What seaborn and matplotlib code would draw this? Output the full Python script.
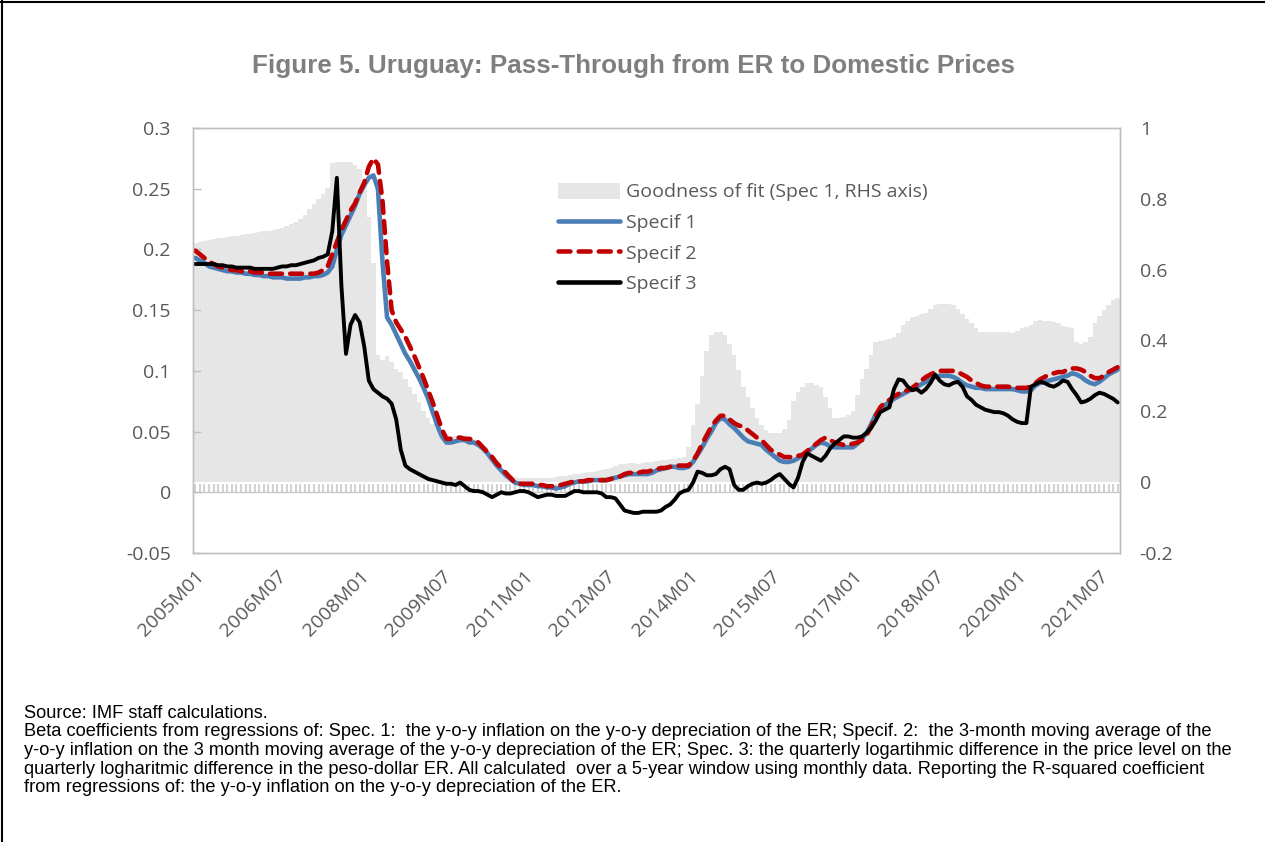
import numpy as np
import pandas as pd
import matplotlib
matplotlib.use("Agg")
import matplotlib.pyplot as plt
import seaborn as sns
from matplotlib.patches import Patch
from matplotlib.lines import Line2D

# ---------------- data ----------------
months = [f"{y}M{m:02d}" for y in range(2005, 2022) for m in range(1, 13)][:203]
tick_labels = ["2005M01", "2006M07", "2008M01", "2009M07", "2011M01", "2012M07",
               "2014M01", "2015M07", "2017M01", "2018M07", "2020M01", "2021M07"]

spec1 = [
    0.193, 0.191, 0.189, 0.186, 0.185, 0.184, 0.183, 0.182, 0.182, 0.181, 0.181, 0.180,
    0.180, 0.179, 0.179, 0.178, 0.178, 0.177, 0.177, 0.177, 0.176, 0.176, 0.176, 0.176,
    0.177, 0.177, 0.178, 0.178, 0.179, 0.181, 0.186, 0.200, 0.212, 0.220, 0.228, 0.236,
    0.246, 0.253, 0.259, 0.261, 0.250, 0.190, 0.144, 0.138, 0.130, 0.122, 0.114, 0.108,
    0.101, 0.094, 0.086, 0.077, 0.066, 0.055, 0.046, 0.041, 0.041, 0.042, 0.043, 0.043,
    0.041, 0.041, 0.039, 0.036, 0.032, 0.027, 0.022, 0.018, 0.014, 0.011, 0.008, 0.007,
    0.006, 0.006, 0.006, 0.005, 0.005, 0.004, 0.004, 0.003, 0.004, 0.005, 0.007, 0.008,
    0.009, 0.009, 0.009, 0.010, 0.010, 0.010, 0.010, 0.011, 0.012, 0.013, 0.014, 0.015,
    0.015, 0.015, 0.015, 0.015, 0.016, 0.018, 0.019, 0.020, 0.021, 0.021, 0.020, 0.020,
    0.021, 0.025, 0.031, 0.037, 0.044, 0.050, 0.057, 0.061, 0.060, 0.056, 0.053, 0.049,
    0.045, 0.042, 0.041, 0.040, 0.039, 0.035, 0.032, 0.029, 0.026, 0.025, 0.025, 0.026,
    0.028, 0.030, 0.033, 0.036, 0.039, 0.041, 0.040, 0.038, 0.037, 0.037, 0.037, 0.037,
    0.037, 0.040, 0.044, 0.049, 0.056, 0.064, 0.069, 0.072, 0.074, 0.077, 0.079, 0.081,
    0.083, 0.085, 0.087, 0.089, 0.091, 0.093, 0.095, 0.096, 0.096, 0.096, 0.095, 0.093,
    0.090, 0.088, 0.087, 0.086, 0.086, 0.085, 0.085, 0.085, 0.085, 0.085, 0.085, 0.085,
    0.084, 0.083, 0.083, 0.084, 0.088, 0.090, 0.091, 0.092, 0.093, 0.094, 0.095, 0.096,
    0.098, 0.097, 0.095, 0.092, 0.090, 0.089, 0.091, 0.094, 0.097, 0.099, 0.101,
]

spec2 = [
    0.199, 0.196, 0.193, 0.190, 0.188, 0.186, 0.185, 0.184, 0.183, 0.183, 0.182, 0.182,
    0.182, 0.181, 0.181, 0.181, 0.180, 0.180, 0.180, 0.180, 0.180, 0.180, 0.180, 0.180,
    0.180, 0.180, 0.180, 0.181, 0.183, 0.186, 0.196, 0.206, 0.216, 0.224, 0.232, 0.238,
    0.247, 0.255, 0.268, 0.275, 0.270, 0.240, 0.190, 0.150, 0.140, 0.134, 0.128, 0.120,
    0.112, 0.103, 0.094, 0.084, 0.074, 0.063, 0.052, 0.044, 0.044, 0.045, 0.045, 0.044,
    0.044, 0.043, 0.041, 0.037, 0.033, 0.029, 0.024, 0.020, 0.016, 0.012, 0.008, 0.007,
    0.007, 0.007, 0.007, 0.006, 0.006, 0.005, 0.005, 0.005, 0.006, 0.007, 0.008, 0.009,
    0.009, 0.009, 0.010, 0.010, 0.010, 0.010, 0.010, 0.011, 0.012, 0.013, 0.015, 0.016,
    0.016, 0.016, 0.017, 0.017, 0.018, 0.019, 0.020, 0.020, 0.021, 0.022, 0.022, 0.022,
    0.022, 0.026, 0.032, 0.040, 0.047, 0.054, 0.059, 0.063, 0.063, 0.060, 0.057, 0.055,
    0.054, 0.051, 0.048, 0.045, 0.043, 0.039, 0.035, 0.033, 0.031, 0.029, 0.029, 0.029,
    0.030, 0.031, 0.034, 0.037, 0.040, 0.043, 0.045, 0.043, 0.041, 0.040, 0.039, 0.039,
    0.040, 0.041, 0.043, 0.047, 0.054, 0.063, 0.070, 0.074, 0.076, 0.079, 0.081, 0.083,
    0.084, 0.086, 0.089, 0.092, 0.095, 0.097, 0.099, 0.100, 0.100, 0.100, 0.100, 0.099,
    0.097, 0.095, 0.092, 0.090, 0.088, 0.087, 0.087, 0.087, 0.087, 0.087, 0.087, 0.086,
    0.086, 0.086, 0.086, 0.087, 0.090, 0.093, 0.095, 0.097, 0.098, 0.099, 0.099, 0.101,
    0.102, 0.102, 0.101, 0.099, 0.096, 0.094, 0.094, 0.096, 0.099, 0.101, 0.103,
]

spec3 = [
    0.188, 0.188, 0.188, 0.188, 0.188, 0.187, 0.187, 0.186, 0.186, 0.185, 0.185, 0.185,
    0.185, 0.184, 0.184, 0.184, 0.184, 0.184, 0.185, 0.186, 0.186, 0.187, 0.187, 0.188,
    0.189, 0.190, 0.191, 0.193, 0.194, 0.196, 0.215, 0.259, 0.170, 0.114, 0.138, 0.146,
    0.140, 0.120, 0.092, 0.085, 0.082, 0.079, 0.077, 0.073, 0.060, 0.035, 0.022, 0.019,
    0.017, 0.015, 0.013, 0.011, 0.010, 0.009, 0.008, 0.007, 0.007, 0.006, 0.008, 0.005,
    0.002, 0.001, 0.001, 0.000, -0.002, -0.004, -0.002, 0.000, -0.001, -0.001, 0.000, 0.001,
    0.001, 0.000, -0.002, -0.004, -0.003, -0.002, -0.002, -0.003, -0.003, -0.003, -0.001, 0.001,
    0.001, 0.000, 0.000, 0.000, 0.000, -0.001, -0.004, -0.004, -0.005, -0.010, -0.015, -0.016,
    -0.017, -0.017, -0.016, -0.016, -0.016, -0.016, -0.015, -0.012, -0.010, -0.006, -0.001, 0.001,
    0.002, 0.008, 0.017, 0.016, 0.014, 0.014, 0.015, 0.019, 0.021, 0.019, 0.006, 0.002,
    0.002, 0.005, 0.007, 0.008, 0.007, 0.008, 0.010, 0.013, 0.015, 0.011, 0.007, 0.004,
    0.012, 0.025, 0.032, 0.030, 0.028, 0.026, 0.030, 0.036, 0.040, 0.043, 0.046, 0.046,
    0.045, 0.045, 0.046, 0.049, 0.053, 0.059, 0.066, 0.068, 0.070, 0.085, 0.093, 0.092,
    0.087, 0.084, 0.085, 0.082, 0.085, 0.090, 0.097, 0.092, 0.089, 0.088, 0.090, 0.091,
    0.087, 0.079, 0.076, 0.072, 0.070, 0.068, 0.067, 0.066, 0.066, 0.065, 0.063, 0.060,
    0.058, 0.057, 0.057, 0.087, 0.089, 0.091, 0.090, 0.088, 0.087, 0.089, 0.092, 0.091,
    0.085, 0.080, 0.074, 0.075, 0.077, 0.080, 0.082, 0.081, 0.079, 0.077, 0.074,
]

r2 = [
    0.675, 0.677, 0.680, 0.683, 0.686, 0.688, 0.690, 0.692, 0.694, 0.696, 0.698, 0.700,
    0.702, 0.704, 0.706, 0.708, 0.710, 0.712, 0.715, 0.718, 0.722, 0.728, 0.735, 0.742,
    0.755, 0.770, 0.785, 0.800, 0.815, 0.830, 0.900, 0.905, 0.905, 0.905, 0.905, 0.895,
    0.885, 0.850, 0.750, 0.620, 0.360, 0.345, 0.355, 0.340, 0.320, 0.310, 0.290, 0.270,
    0.250, 0.225, 0.200, 0.180, 0.165, 0.150, 0.140, 0.135, 0.130, 0.130, 0.133, 0.132,
    0.128, 0.122, 0.115, 0.100, 0.085, 0.070, 0.055, 0.040, 0.030, 0.020, 0.015, 0.013,
    0.012, 0.012, 0.012, 0.012, 0.012, 0.012, 0.013, 0.014, 0.016, 0.018, 0.020, 0.022,
    0.024, 0.026, 0.028, 0.030, 0.032, 0.035, 0.038, 0.040, 0.045, 0.050, 0.052, 0.054,
    0.055, 0.052, 0.055, 0.058, 0.056, 0.060, 0.062, 0.062, 0.064, 0.066, 0.068, 0.070,
    0.100, 0.160, 0.220, 0.300, 0.370, 0.415, 0.425, 0.425, 0.415, 0.390, 0.360, 0.316,
    0.270, 0.240, 0.210, 0.180, 0.160, 0.147, 0.140, 0.138, 0.138, 0.150, 0.175, 0.230,
    0.255, 0.270, 0.280, 0.280, 0.275, 0.270, 0.240, 0.210, 0.180, 0.180, 0.185, 0.190,
    0.200, 0.245, 0.290, 0.320, 0.360, 0.395, 0.398, 0.400, 0.405, 0.410, 0.420, 0.445,
    0.455, 0.466, 0.470, 0.475, 0.477, 0.490, 0.500, 0.502, 0.503, 0.503, 0.500, 0.490,
    0.475, 0.460, 0.448, 0.435, 0.425, 0.424, 0.424, 0.424, 0.424, 0.425, 0.425, 0.422,
    0.428, 0.435, 0.438, 0.445, 0.455, 0.458, 0.456, 0.455, 0.452, 0.448, 0.442, 0.437,
    0.435, 0.395, 0.390, 0.395, 0.410, 0.450, 0.470, 0.486, 0.500, 0.514, 0.520,
]

left_ticks = [-0.05, 0, 0.05, 0.1, 0.15, 0.2, 0.25, 0.3]
left_tick_labels = ["-0.05", "0", "0.05", "0.1", "0.15", "0.2", "0.25", "0.3"]
right_ticks = [-0.2, 0, 0.2, 0.4, 0.6, 0.8, 1.0]
right_tick_labels = ["-0.2", "0", "0.2", "0.4", "0.6", "0.8", "1"]

title = "Figure 5. Uruguay: Pass-Through from ER to Domestic Prices"
footnote = [
    "Source: IMF staff calculations.",
    "Beta coefficients from regressions of: Spec. 1:  the y-o-y inflation on the y-o-y depreciation of the ER; Specif. 2:  the 3-month moving average of the",
    "y-o-y inflation on the 3 month moving average of the y-o-y depreciation of the ER; Spec. 3: the quarterly logartihmic difference in the price level on the",
    "quarterly logharitmic difference in the peso-dollar ER. All calculated  over a 5-year window using monthly data. Reporting the R-squared coefficient",
    "from regressions of: the y-o-y inflation on the y-o-y depreciation of the ER.",
]

# ---------------- figure ----------------
sns.set_theme(style="white")
plt.rcParams["font.family"] = ["Open Sans", "DejaVu Sans"]

W, H = 1265, 842
fig = plt.figure(figsize=(W / 100, H / 100), dpi=100)

# frame lines at top and left edges of the picture
fig.add_artist(Line2D([0, 1], [1 - 1.5 / H, 1 - 1.5 / H], transform=fig.transFigure,
                      color="black", lw=1.5))
fig.add_artist(Line2D([1.5 / W, 1.5 / W], [0, 1], transform=fig.transFigure,
                      color="black", lw=1.5))

L, R, T, B = 193, 1120, 128, 553
ax = fig.add_axes([L / W, 1 - B / H, (R - L) / W, (B - T) / H])
ax2 = ax.twinx()

df = pd.DataFrame({"month": months, "x": np.arange(len(months)),
                   "r2": r2, "s1": spec1, "s2": spec2, "s3": spec3})

bar_color = "#e6e6e6"
sns.barplot(data=df, x="x", y="r2", native_scale=True, width=1.0, color=bar_color,
            saturation=1, linewidth=0, errorbar=None, ax=ax2)

blue, red = "#4a7fb5", "#c00000"
dash = (0, (2.6, 1.8))
sns.lineplot(data=df, x="x", y="s1", ax=ax, color=blue, lw=3.3, label="Specif 1")
sns.lineplot(data=df, x="x", y="s2", ax=ax, color=red, lw=3.3,
             linestyle=dash, dash_capstyle="round", label="Specif 2")
sns.lineplot(data=df, x="x", y="s3", ax=ax, color="black", lw=2.8, label="Specif 3")

ax.set_zorder(ax2.get_zorder() + 1)
ax.patch.set_visible(False)

ymin, ymax = -0.05, 0.3
ax.set_ylim(ymin, ymax)
ax2.set_ylim(-0.2, 1.0)
ax.set_xlim(-0.5, len(months) - 0.5)

for a in (ax, ax2):
    a.set_xlabel("")
    a.set_ylabel("")

tc = "#595959"
ax.set_yticks(left_ticks)
ax.set_yticklabels(left_tick_labels)
ax2.set_yticks(right_ticks)
ax2.set_yticklabels(right_tick_labels)

tick_pos = [months.index(t) for t in tick_labels]
ax.set_xticks(tick_pos)
ax.set_xticklabels(tick_labels, rotation=45, ha="right", rotation_mode="anchor")
ax.tick_params(axis="x", length=0, pad=10, labelsize=14, labelcolor=tc)
ax.tick_params(axis="y", direction="in", length=6, color="#bfbfbf", width=1,
               pad=16, labelsize=14, labelcolor=tc)
ax2.tick_params(axis="y", length=0, pad=14.2, labelsize=14, labelcolor=tc)

for a in (ax, ax2):
    for s in a.spines.values():
        s.set_color("#bfbfbf")
        s.set_linewidth(1.0)

# horizontal category axis at left-axis zero with monthly tick marks
zero_loc = (0 - ymin) / (ymax - ymin)
sec = ax.secondary_xaxis(zero_loc)
sec.set_xticks(np.arange(len(months)))
sec.tick_params(axis="x", direction="in", length=6, width=1.2, color="#c9c9c9",
                labelbottom=False, labeltop=False)
sec.spines["bottom"].set_color("#c9c9c9")
sec.spines["bottom"].set_linewidth(1.0)
sec.set_xticklabels([])

# legend
handles = [Patch(facecolor=bar_color, edgecolor="none"),
           Line2D([], [], color=blue, lw=3.3),
           Line2D([], [], color=red, lw=3.3, linestyle=dash, dash_capstyle="round"),
           Line2D([], [], color="black", lw=3.3)]
labels = ["Goodness of fit (Spec 1, RHS axis)", "Specif 1", "Specif 2", "Specif 3"]
ax.legend(handles, labels, loc="upper left",
          bbox_to_anchor=((558 - L) / (R - L), (B - 183) / (B - T)),
          frameon=False, fontsize=14, labelcolor=tc, handlelength=3.2,
          handleheight=0.85, handletextpad=0.3, labelspacing=0.62,
          borderpad=0, borderaxespad=0)

fig.text(633 / W, 1 - 66 / H, title, ha="center", va="center", fontsize=18.7,
         fontweight="bold", color="#7f7f7f", family=["Liberation Sans", "DejaVu Sans"])

ys = [713, 732, 750.5, 769, 787.5]
for line, y in zip(footnote, ys):
    fig.text(24 / W, 1 - y / H, line, ha="left", va="center", fontsize=13.15,
             color="black", family=["Liberation Sans", "DejaVu Sans"])

fig.savefig("out.png", dpi=100)
